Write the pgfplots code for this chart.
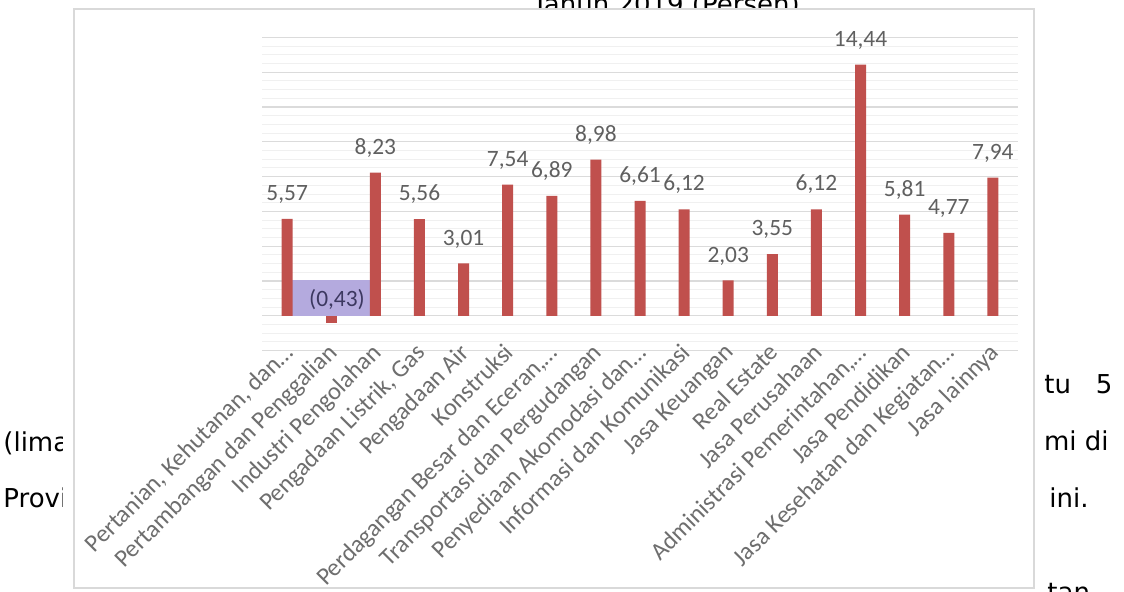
\documentclass[border=0pt]{standalone}
\usepackage{pgfplots}
\pgfplotsset{compat=1.18}
\usepackage{pgfplotstable}
\usepackage{fontspec}
\setmainfont{Carlito}
\newfontfamily\docfont{DejaVu Sans}
\definecolor{barred}{RGB}{192,80,77}
\definecolor{lblgray}{RGB}{96,96,96}
\definecolor{ticklbl}{RGB}{110,110,110}
\definecolor{hl}{RGB}{180,170,222}
\definecolor{hltext}{RGB}{60,56,96}

\pgfplotstableread{
x y
0 5.57
2 8.23
3 5.56
4 3.01
5 7.54
6 6.89
7 8.98
8 6.61
9 6.12
10 2.03
11 3.55
12 6.12
13 14.44
14 5.81
15 4.77
16 7.94
}\pos
\pgfplotstableread{
x y
1 -0.43
}\negdata

\begin{document}
\begin{tikzpicture}
\useasboundingbox (0,0) rectangle (562pt,-295.5pt);
\begin{scope}
\clip (0,0) rectangle (562pt,-295.5pt);
\begin{scope}[every node/.style={inner sep=0pt, font=\docfont\fontsize{13}{15}\selectfont}]
\node[anchor=base] at (333pt,-6.5pt) {Tahun 2019 (Persen)};
\node[anchor=base west] at (522pt,-196.5pt) {tu\ \ \ 5};
\node[anchor=base east] at (554.5pt,-225pt) {omi di};
\node[anchor=base east] at (544.5pt,-253.5pt) {ini.};
\node[anchor=base west] at (523.5pt,-300.5pt) {tan};
\node[anchor=base west] at (1.5pt,-225.5pt) {(lima};
\node[anchor=base west] at (1.5pt,-253.5pt) {Provinsi};
\end{scope}
\fill[white] (31.5pt,-4.5pt) rectangle (522pt,-300pt);
\draw[gray!30, line width=1pt] (37pt,-4.5pt) rectangle (517pt,-294pt);
\end{scope}

\begin{axis}[
  at={(131pt,-175.3pt)}, anchor=south west,
  scale only axis, width=378pt, height=156.6pt,
  xmin=-0.57, xmax=16.57, ymin=-2, ymax=16,
  axis line style={draw=none},
  tick style={draw=none},
  ytick={-2,0,...,16}, minor y tick num=3,
  ymajorgrids, yminorgrids,
  major grid style={gray!28, line width=0.6pt},
  minor grid style={gray!12, line width=0.5pt},
  yticklabels={},
  xtick={0,...,16},
  xticklabels={{Pertanian, Kehutanan, dan…},{Pertambangan dan Penggalian},{Industri Pengolahan},{Pengadaan Listrik, Gas},{Pengadaan Air},{Konstruksi},{Perdagangan Besar dan Eceran,…},{Transportasi dan Pergudangan},{Penyediaan Akomodasi dan…},{Informasi dan Komunikasi},{Jasa Keuangan},{Real Estate},{Jasa Perusahaan},{Administrasi Pemerintahan,…},{Jasa Pendidikan},{Jasa Kesehatan dan Kegiatan…},{Jasa lainnya}},
  xticklabel style={rotate=45, anchor=north east, inner sep=0pt, font=\fontsize{12.3}{14}\selectfont, text=ticklbl, yshift=5pt, xshift=1.5pt},
  clip=false,
]
\fill[hl] (axis cs:-0.11,0) rectangle (axis cs:2.0,2.08);
\node[font=\fontsize{11.7}{13}\selectfont, text=hltext, inner sep=0pt] at (axis cs:1.13,0.92) {(0,43)};
\addplot[ybar, bar width=5.5pt, bar shift=0pt, fill=barred, draw=none,
  nodes near coords,
  nodes near coords style={font=\fontsize{11.7}{13}\selectfont, text=lblgray, anchor=base, inner sep=0pt, yshift=9.2pt,
    /pgf/number format/.cd, fixed, fixed zerofill, precision=2, use comma, assume math mode=true},
] table[x=x,y=y] {\pos};
\addplot[ybar, bar width=5.5pt, bar shift=0pt, fill=barred, draw=none] table[x=x,y=y] {\negdata};
\end{axis}
\end{tikzpicture}
\end{document}
